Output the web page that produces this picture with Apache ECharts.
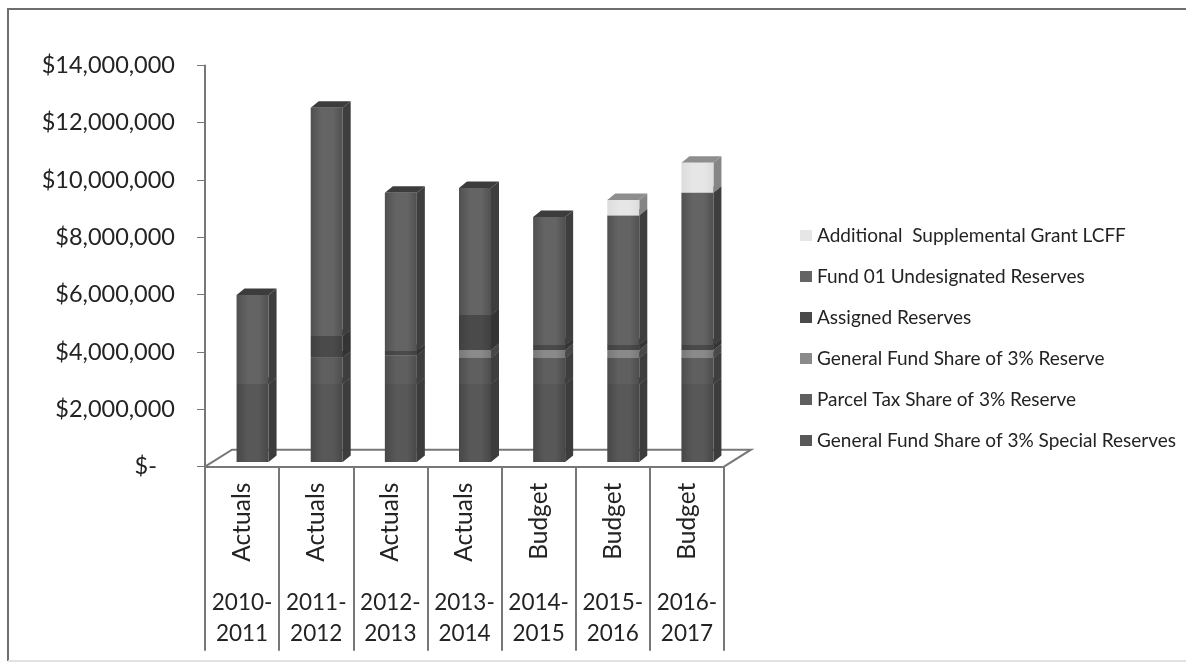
<!DOCTYPE html>
<html>
<head>
<meta charset="utf-8">
<style>html,body{margin:0;padding:0;background:#fff}#chart{width:1191px;height:664px}</style>
<script src="https://cdn.jsdelivr.net/npm/echarts@6/dist/echarts.min.js"></script>
</head>
<body>
<div id="chart"></div>
<script>
// District reserve balances by fiscal year, in dollars
const statusLabels = ['Actuals', 'Actuals', 'Actuals', 'Actuals', 'Budget', 'Budget', 'Budget'];
const yearLabels = ['2010-\n2011', '2011-\n2012', '2012-\n2013', '2013-\n2014', '2014-\n2015', '2015-\n2016', '2016-\n2017'];

const specialReserves = [2720000, 2720000, 2720000, 2720000, 2720000, 2720000, 2720000];
const parcelTaxShare = [0, 930000, 1000000, 910000, 910000, 910000, 910000];
const generalFundShare = [0, 0, 0, 280000, 280000, 280000, 280000];
const assignedReserves = [0, 750000, 150000, 1220000, 170000, 170000, 170000];
const undesignatedReserves = [3110000, 7960000, 5520000, 4430000, 4470000, 4520000, 5310000];
const supplementalGrant = [0, 0, 0, 0, 0, 540000, 1050000];

const stackOrder = [
  { name: 'General Fund Share of 3% Special Reserves', values: specialReserves, front: '#585858', edge: '#474747', side: '#3c3c3c', top: '#3c3c3c' },
  { name: 'Parcel Tax Share of 3% Reserve', values: parcelTaxShare, front: '#5f5f5f', edge: '#4d4d4d', side: '#3e3e3e', top: '#444444' },
  { name: 'General Fund Share of 3% Reserve', values: generalFundShare, front: '#8a8a8a', edge: '#787878', side: '#484848', top: '#666666' },
  { name: 'Assigned Reserves', values: assignedReserves, front: '#4a4a4a', edge: '#404040', side: '#343434', top: '#333333' },
  { name: 'Fund 01 Undesignated Reserves', values: undesignatedReserves, front: '#646464', edge: '#505050', side: '#3e3e3e', top: '#3c3c3c' },
  { name: 'Additional  Supplemental Grant LCFF', values: supplementalGrant, front: '#e6e6e6', edge: '#dcdcdc', side: '#858585', top: '#8e8e8e' }
];

const FONT = 'Lato';
const TEXT_COLOR = '#232323';
const AXIS_GRAY = '#777777';
const BAR_HALF = 16;   // half the width of a bar's front face
const DEPTH_X = 8;     // receding offset of the bar's side and top
const DEPTH_Y = 6.5;
const BAR_SHIFT_X = 10.5;
const BAR_SHIFT_Y = 4.7;
const FLOOR_X = 27;
const FLOOR_Y = 17;

// Front, side and top faces of one stacked block
function renderBlock(style) {
  return function (params, api) {
    const low = api.coord([api.value(0), api.value(1)]);
    const high = api.coord([api.value(0), api.value(2)]);
    const xc = low[0] + BAR_SHIFT_X;
    const x0 = xc - BAR_HALF, x1 = xc + BAR_HALF;
    const yb = low[1] - BAR_SHIFT_Y, yt = high[1] - BAR_SHIFT_Y;
    const poly = (points, fill) => ({ type: 'polygon', shape: { points }, style: { fill } });
    return {
      type: 'group',
      children: [
        poly([[x1, yb], [x1 + DEPTH_X, yb - DEPTH_Y], [x1 + DEPTH_X, yt - DEPTH_Y], [x1, yt]], style.side),
        poly([[x0, yt], [x1, yt], [x1 + DEPTH_X, yt - DEPTH_Y], [x0 + DEPTH_X, yt - DEPTH_Y]], style.top),
        {
          type: 'rect',
          shape: { x: x0, y: yt, width: x1 - x0, height: yb - yt },
          style: {
            fill: new echarts.graphic.LinearGradient(0, 0, 1, 0, [
              { offset: 0, color: style.edge },
              { offset: 0.35, color: style.front },
              { offset: 0.7, color: style.front },
              { offset: 1, color: style.edge }
            ])
          }
        }
      ]
    };
  };
}

// The floor of the plot, receding up and to the right from the category axis
function renderFloor(params) {
  const c = params.coordSys;
  const yf = c.y + c.height;
  return {
    type: 'polyline',
    shape: {
      points: [
        [c.x, yf],
        [c.x + FLOOR_X, yf - FLOOR_Y],
        [c.x + c.width + FLOOR_X, yf - FLOOR_Y],
        [c.x + c.width, yf]
      ]
    },
    style: { fill: null, stroke: AXIS_GRAY, lineWidth: 2 }
  };
}

const blockSeries = [];
const running = statusLabels.map(() => 0);
stackOrder.forEach((s) => {
  const rows = [];
  s.values.forEach((v, i) => {
    if (v > 0) rows.push([i, running[i], running[i] + v]);
    running[i] += v;
  });
  blockSeries.push({
    type: 'custom',
    name: s.name,
    coordinateSystem: 'cartesian2d',
    xAxisIndex: 0,
    yAxisIndex: 0,
    clip: false,
    silent: true,
    itemStyle: { color: s.front },
    encode: { x: 0, y: [1, 2] },
    renderItem: renderBlock(s),
    data: rows
  });
});

const floorSeries = {
  type: 'custom',
  name: 'floor',
  coordinateSystem: 'cartesian2d',
  clip: false,
  silent: true,
  renderItem: renderFloor,
  data: [[0, 0]]
};

const chart = echarts.init(document.getElementById('chart'), null, { renderer: 'canvas' });
chart.setOption({
  animation: false,
  backgroundColor: '#ffffff',
  textStyle: { fontFamily: FONT },
  grid: { left: 205, right: 1191 - 724, top: 65.4, bottom: 664 - 466.7, containLabel: false },
  graphic: [
    {
      type: 'polyline',
      silent: true,
      shape: { points: [[8, 661], [8, 9], [1186, 9]] },
      style: { fill: null, stroke: '#6e6e6e', lineWidth: 2 }
    },
    {
      type: 'line',
      silent: true,
      shape: { x1: 8, y1: 661, x2: 1186, y2: 661 },
      style: { stroke: '#e2e2e2', lineWidth: 2 }
    }
  ],
  legend: {
    orient: 'vertical',
    left: 795,
    top: 221,
    icon: 'rect',
    itemWidth: 12,
    itemHeight: 11,
    itemGap: 22,
    selectedMode: false,
    textStyle: { fontFamily: FONT, fontSize: 19, color: TEXT_COLOR },
    data: stackOrder.map((s) => s.name).reverse()
  },
  xAxis: [
    {
      type: 'category',
      data: statusLabels,
      position: 'bottom',
      boundaryGap: true,
      axisLine: { lineStyle: { color: AXIS_GRAY, width: 2 } },
      axisTick: { show: true, alignWithLabel: false, length: 184, lineStyle: { color: AXIS_GRAY, width: 2 } },
      axisLabel: { interval: 0, rotate: 90, margin: 16, fontFamily: FONT, fontSize: 24.5, color: TEXT_COLOR }
    },
    {
      type: 'category',
      data: yearLabels,
      position: 'bottom',
      offset: 115,
      boundaryGap: true,
      axisLine: { show: false },
      axisTick: { show: false },
      axisLabel: { interval: 0, margin: 6, lineHeight: 31, fontFamily: FONT, fontSize: 22.5, color: TEXT_COLOR }
    }
  ],
  yAxis: {
    type: 'value',
    min: 0,
    max: 14000000,
    interval: 2000000,
    splitLine: { show: false },
    axisLine: { show: true, lineStyle: { color: AXIS_GRAY, width: 2 } },
    axisTick: { show: true, length: 8, lineStyle: { color: AXIS_GRAY, width: 1 } },
    axisLabel: {
      margin: 30,
      fontFamily: FONT,
      fontSize: 23.5,
      color: TEXT_COLOR,
      formatter: (v) => (v === 0 ? '$-\u00a0\u00a0\u00a0' : '$' + v.toLocaleString('en-US'))
    }
  },
  series: [floorSeries].concat(blockSeries)
});
</script>
</body>
</html>
